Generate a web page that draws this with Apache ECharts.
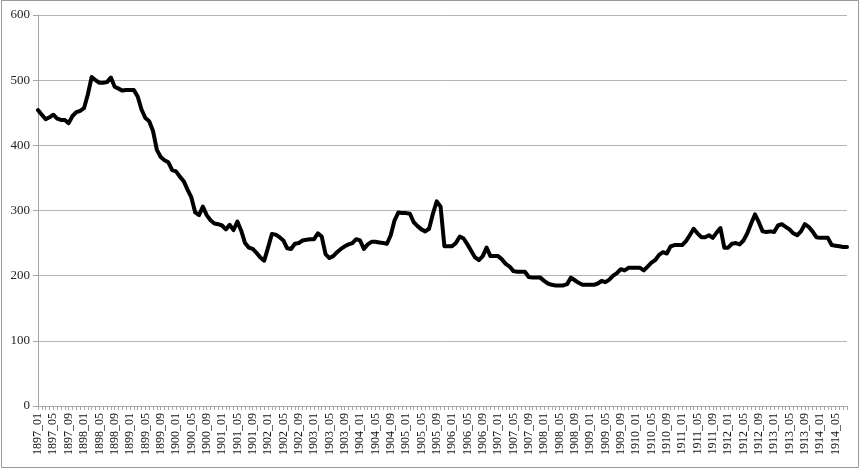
<!DOCTYPE html>
<html>
<head>
<meta charset="utf-8">
<script src="https://cdn.jsdelivr.net/npm/echarts@6/dist/echarts.min.js"></script>
<style>
  html, body { margin: 0; padding: 0; background: #fff; }
  #chart { width: 861px; height: 470px; }
</style>
</head>
<body>
<div id="chart"></div>
<script>
// monthly values, one row per year (1897 .. 1914, last year to August)
const values = [
  454, 447, 440, 443, 447, 441, 439, 439, 434, 445, 451, 453, // 1897
  457, 478, 505, 500, 496, 496, 497, 504, 490, 487, 484, 485, // 1898
  485, 485, 475, 455, 442, 437, 422, 393, 382, 377, 374, 362, // 1899
  360, 352, 345, 332, 320, 297, 293, 306, 293, 285, 280, 279, // 1900
  277, 271, 278, 270, 283, 269, 250, 243, 241, 235, 228, 223, // 1901
  243, 264, 263, 259, 254, 242, 241, 249, 250, 254, 255, 256, // 1902
  256, 265, 260, 233, 227, 230, 236, 241, 245, 248, 250, 256, // 1903
  254, 241, 248, 252, 252, 251, 250, 249, 262, 285, 297, 296, // 1904
  296, 295, 282, 276, 271, 268, 272, 295, 314, 306, 245, 245, // 1905
  245, 250, 260, 257, 248, 238, 228, 224, 230, 243, 230, 230, // 1906
  230, 225, 218, 214, 207, 206, 206, 206, 198, 197, 197, 197, // 1907
  192, 188, 186, 185, 185, 185, 187, 197, 193, 189, 186, 186, // 1908
  186, 186, 188, 192, 190, 194, 200, 204, 210, 208, 212, 212, // 1909
  212, 212, 208, 214, 220, 224, 232, 236, 234, 245, 247, 247, // 1910
  247, 253, 262, 272, 265, 259, 259, 262, 258, 266, 273, 243, // 1911
  243, 249, 250, 248, 254, 265, 280, 294, 282, 268, 267, 268, // 1912
  267, 277, 279, 275, 271, 265, 262, 268, 279, 275, 268, 259, // 1913
  258, 258, 258, 247, 246, 245, 244, 244                      // 1914
];
const startYear = 1897;
const yTicks = [0, 100, 200, 300, 400, 500, 600];

const categories = values.map((v, i) => {
  const y = startYear + Math.floor(i / 12);
  const m = (i % 12) + 1;
  return y + '_' + (m < 10 ? '0' + m : m);
});

const chart = echarts.init(document.getElementById('chart'));
const serif = '"Liberation Serif", "Times New Roman", serif';

chart.setOption({
  animation: false,
  backgroundColor: '#fff',
  graphic: [{
    type: 'rect',
    shape: { x: 1.5, y: 0.5, width: 857, height: 467 },
    style: { fill: 'none', stroke: '#9a9a9a', lineWidth: 1 },
    silent: true
  }],
  grid: { left: 38, right: 14, top: 15, bottom: 64 },
  xAxis: {
    type: 'category',
    data: categories,
    boundaryGap: false,
    axisLine: { lineStyle: { color: '#a6a6a6', width: 1 } },
    axisTick: { show: true, interval: 0, length: 4, lineStyle: { color: '#a6a6a6' } },
    axisLabel: {
      interval: 3,
      rotate: 90,
      margin: 7,
      fontFamily: serif,
      fontSize: 12,
      color: '#111'
    },
    splitLine: { show: false }
  },
  yAxis: {
    type: 'value',
    min: yTicks[0],
    max: yTicks[yTicks.length - 1],
    interval: 100,
    axisLine: { show: true, lineStyle: { color: '#a6a6a6', width: 1 } },
    axisTick: { show: true, length: 5, lineStyle: { color: '#a6a6a6' } },
    axisLabel: {
      margin: 8,
      fontFamily: serif,
      fontSize: 13,
      color: '#222'
    },
    splitLine: { lineStyle: { color: '#b4b4b4', width: 1 } }
  },
  series: [{
    type: 'line',
    data: values,
    showSymbol: false,
    lineStyle: { color: '#000', width: 4, join: 'round', cap: 'round' },
    itemStyle: { color: '#000' }
  }]
});
</script>
</body>
</html>
